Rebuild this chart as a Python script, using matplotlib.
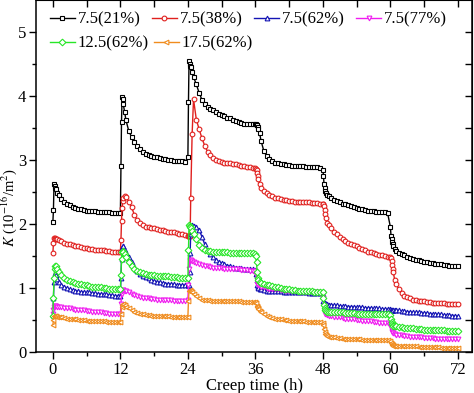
import matplotlib
matplotlib.use("Agg")
import matplotlib.pyplot as plt

plt.rcParams['font.family'] = ['Liberation Serif', 'DejaVu Serif']
plt.rcParams['mathtext.fontset'] = 'stix'

#############   data   #############

# sampling offsets (h) inside each 12 h stage
stage_offsets = [0, 0.1, 0.2, 0.3, 0.4, 0.5, 0.75, 1, 1.5, 2, 2.5, 3, 3.5, 4, 4.5,
                 5, 5.5, 6, 6.5, 7, 7.5, 8, 8.5, 9, 9.5, 10, 10.5, 11, 11.5]
stage_starts = [0, 12, 24, 36, 48, 60]
t_end = 72

labels = ['7.5(21%)', '7.5(38%)', '7.5(62%)', '7.5(77%)', '12.5(62%)', '17.5(62%)']

k_21 = [
    2.03, 2.22, 2.62, 2.60, 2.57, 2.54, 2.49, 2.45, 2.39, 2.34, 2.31, 2.29, 2.27, 2.25, 2.24,
    2.23, 2.22, 2.21, 2.21, 2.20, 2.20, 2.19, 2.19, 2.18, 2.18, 2.18, 2.17, 2.17, 2.17,
    2.17, 2.90, 3.60, 3.98, 3.95, 3.88, 3.75, 3.62, 3.45, 3.36, 3.28, 3.22, 3.17, 3.13, 3.10,
    3.08, 3.06, 3.05, 3.04, 3.03, 3.02, 3.01, 3.00, 3.00, 2.99, 2.99, 2.98, 2.98, 2.97,
    3.05, 3.90, 4.54, 4.50, 4.47, 4.45, 4.38, 4.30, 4.18, 4.05, 3.94, 3.87, 3.83, 3.80, 3.78,
    3.75, 3.72, 3.70, 3.68, 3.66, 3.65, 3.63, 3.61, 3.59, 3.58, 3.57, 3.57, 3.56, 3.56,
    3.56, 3.56, 3.55, 3.55, 3.52, 3.48, 3.42, 3.30, 3.14, 3.06, 3.01, 2.98, 2.96, 2.95, 2.94,
    2.93, 2.92, 2.92, 2.91, 2.91, 2.90, 2.90, 2.90, 2.89, 2.89, 2.89, 2.89, 2.89, 2.88,
    2.85, 2.75, 2.62, 2.56, 2.52, 2.49, 2.46, 2.44, 2.41, 2.38, 2.36, 2.34, 2.32, 2.31, 2.29,
    2.28, 2.27, 2.25, 2.24, 2.23, 2.22, 2.21, 2.21, 2.20, 2.19, 2.19, 2.18, 2.18, 2.17,
    1.95, 1.82, 1.76, 1.72, 1.68, 1.65, 1.61, 1.58, 1.55, 1.53, 1.51, 1.49, 1.47, 1.45, 1.44,
    1.43, 1.42, 1.41, 1.40, 1.39, 1.39, 1.38, 1.37, 1.37, 1.36, 1.36, 1.35, 1.35, 1.34,
    1.34]

k_38 = [
    1.54, 1.70, 1.78, 1.78, 1.77, 1.77, 1.76, 1.75, 1.73, 1.71, 1.69, 1.68, 1.67, 1.66, 1.65,
    1.64, 1.63, 1.62, 1.61, 1.61, 1.60, 1.60, 1.59, 1.59, 1.58, 1.58, 1.57, 1.57, 1.57,
    1.57, 1.75, 2.05, 2.25, 2.36, 2.40, 2.43, 2.42, 2.35, 2.26, 2.14, 2.06, 2.01, 1.98, 1.96,
    1.95, 1.94, 1.93, 1.92, 1.91, 1.90, 1.89, 1.88, 1.87, 1.87, 1.86, 1.85, 1.84, 1.83,
    1.82, 1.81, 1.81, 1.81, 1.82, 2.40, 3.40, 3.95, 3.63, 3.48, 3.34, 3.22, 3.13, 3.08, 3.03,
    3.00, 2.98, 2.97, 2.96, 2.96, 2.95, 2.94, 2.93, 2.92, 2.91, 2.90, 2.89, 2.89, 2.88,
    2.87, 2.86, 2.84, 2.80, 2.75, 2.70, 2.62, 2.57, 2.52, 2.48, 2.45, 2.43, 2.41, 2.40, 2.39,
    2.38, 2.37, 2.36, 2.36, 2.35, 2.35, 2.35, 2.34, 2.34, 2.34, 2.33, 2.33, 2.33, 2.32,
    2.32, 2.31, 2.28, 2.22, 2.16, 2.10, 2.02, 1.98, 1.93, 1.88, 1.84, 1.80, 1.77, 1.74, 1.71,
    1.69, 1.67, 1.65, 1.63, 1.61, 1.59, 1.57, 1.56, 1.54, 1.53, 1.52, 1.51, 1.50, 1.49,
    1.49, 1.47, 1.42, 1.36, 1.30, 1.25, 1.13, 1.06, 0.98, 0.92, 0.88, 0.86, 0.84, 0.82, 0.81,
    0.80, 0.79, 0.79, 0.78, 0.78, 0.77, 0.77, 0.76, 0.76, 0.76, 0.75, 0.75, 0.75, 0.75,
    0.75]

k_62 = [
    0.58, 0.85, 1.10, 1.22, 1.23, 1.20, 1.14, 1.09, 1.05, 1.02, 1.00, 0.98, 0.97, 0.96, 0.95,
    0.94, 0.94, 0.93, 0.93, 0.92, 0.92, 0.91, 0.91, 0.90, 0.90, 0.89, 0.89, 0.88, 0.88,
    0.88, 1.15, 1.45, 1.62, 1.66, 1.65, 1.60, 1.55, 1.48, 1.40, 1.33, 1.27, 1.22, 1.19, 1.17,
    1.15, 1.13, 1.11, 1.10, 1.09, 1.08, 1.07, 1.07, 1.06, 1.06, 1.05, 1.05, 1.05, 1.04,
    1.04, 1.04, 1.05, 1.25, 1.55, 1.85, 1.98, 1.97, 1.95, 1.91, 1.80, 1.68, 1.59, 1.53, 1.48,
    1.44, 1.41, 1.39, 1.37, 1.35, 1.34, 1.33, 1.32, 1.31, 1.31, 1.30, 1.30, 1.30, 1.29,
    1.28, 1.22, 1.12, 1.04, 1.01, 1.00, 0.99, 0.98, 0.97, 0.96, 0.96, 0.96, 0.95, 0.95, 0.95,
    0.94, 0.94, 0.94, 0.94, 0.93, 0.93, 0.93, 0.93, 0.93, 0.92, 0.92, 0.92, 0.92, 0.92,
    0.90, 0.80, 0.77, 0.76, 0.76, 0.75, 0.75, 0.74, 0.74, 0.73, 0.73, 0.72, 0.72, 0.72, 0.71,
    0.71, 0.71, 0.70, 0.70, 0.70, 0.69, 0.69, 0.69, 0.68, 0.68, 0.68, 0.67, 0.67, 0.67,
    0.67, 0.66, 0.66, 0.66, 0.66, 0.66, 0.65, 0.65, 0.65, 0.64, 0.64, 0.63, 0.63, 0.62, 0.62,
    0.62, 0.61, 0.61, 0.61, 0.60, 0.60, 0.59, 0.59, 0.59, 0.58, 0.58, 0.58, 0.57, 0.57,
    0.56]

k_77 = [
    0.60, 0.66, 0.71, 0.72, 0.72, 0.72, 0.71, 0.71, 0.70, 0.69, 0.68, 0.68, 0.67, 0.66, 0.66,
    0.65, 0.65, 0.64, 0.64, 0.63, 0.63, 0.62, 0.62, 0.61, 0.61, 0.60, 0.60, 0.59, 0.59,
    0.59, 0.75, 0.90, 0.96, 0.97, 0.97, 0.96, 0.95, 0.93, 0.91, 0.89, 0.87, 0.86, 0.85, 0.84,
    0.84, 0.83, 0.83, 0.82, 0.82, 0.82, 0.81, 0.81, 0.81, 0.80, 0.80, 0.80, 0.80, 0.80,
    0.82, 1.05, 1.30, 1.42, 1.44, 1.43, 1.42, 1.41, 1.39, 1.38, 1.36, 1.35, 1.34, 1.33, 1.32,
    1.32, 1.31, 1.31, 1.30, 1.30, 1.30, 1.29, 1.29, 1.29, 1.28, 1.28, 1.28, 1.27, 1.27,
    1.27, 1.22, 1.12, 1.07, 1.05, 1.04, 1.03, 1.02, 1.01, 1.00, 0.99, 0.99, 0.98, 0.98, 0.97,
    0.97, 0.96, 0.96, 0.95, 0.95, 0.95, 0.94, 0.94, 0.94, 0.93, 0.93, 0.93, 0.93, 0.92,
    0.92, 0.85, 0.72, 0.63, 0.60, 0.59, 0.58, 0.57, 0.56, 0.55, 0.54, 0.54, 0.53, 0.52, 0.52,
    0.51, 0.51, 0.50, 0.50, 0.49, 0.49, 0.48, 0.48, 0.47, 0.47, 0.46, 0.46, 0.46, 0.45,
    0.44, 0.38, 0.33, 0.31, 0.30, 0.29, 0.28, 0.27, 0.27, 0.26, 0.25, 0.25, 0.24, 0.24, 0.23,
    0.23, 0.23, 0.22, 0.22, 0.22, 0.22, 0.21, 0.21, 0.21, 0.21, 0.21, 0.20, 0.20, 0.20,
    0.20]

k_125 = [
    0.57, 0.85, 1.15, 1.30, 1.34, 1.34, 1.30, 1.25, 1.20, 1.16, 1.13, 1.11, 1.10, 1.08, 1.07,
    1.06, 1.05, 1.04, 1.03, 1.02, 1.02, 1.01, 1.01, 1.00, 1.00, 0.99, 0.99, 0.98, 0.98,
    0.98, 1.20, 1.45, 1.56, 1.58, 1.57, 1.53, 1.48, 1.41, 1.35, 1.30, 1.27, 1.25, 1.23, 1.22,
    1.21, 1.20, 1.20, 1.19, 1.19, 1.18, 1.18, 1.18, 1.17, 1.17, 1.17, 1.16, 1.16, 1.16,
    1.16, 1.60, 1.98, 1.97, 1.95, 1.93, 1.89, 1.85, 1.77, 1.67, 1.62, 1.59, 1.58, 1.58, 1.57,
    1.57, 1.57, 1.56, 1.56, 1.56, 1.55, 1.55, 1.55, 1.55, 1.54, 1.54, 1.54, 1.54, 1.54,
    1.53, 1.50, 1.40, 1.25, 1.15, 1.12, 1.10, 1.08, 1.06, 1.05, 1.04, 1.03, 1.02, 1.01, 1.00,
    0.99, 0.99, 0.98, 0.97, 0.97, 0.96, 0.96, 0.95, 0.95, 0.95, 0.95, 0.94, 0.94, 0.94,
    0.93, 0.85, 0.74, 0.68, 0.65, 0.64, 0.63, 0.63, 0.63, 0.62, 0.62, 0.62, 0.62, 0.61, 0.61,
    0.61, 0.61, 0.60, 0.60, 0.60, 0.60, 0.60, 0.59, 0.59, 0.59, 0.59, 0.59, 0.59, 0.59,
    0.58, 0.52, 0.47, 0.44, 0.42, 0.41, 0.40, 0.40, 0.39, 0.39, 0.38, 0.38, 0.37, 0.37, 0.36,
    0.36, 0.36, 0.35, 0.35, 0.35, 0.34, 0.34, 0.34, 0.34, 0.34, 0.33, 0.33, 0.33, 0.33,
    0.33]

k_175 = [
    0.42, 0.50, 0.56, 0.57, 0.57, 0.56, 0.55, 0.55, 0.54, 0.53, 0.52, 0.52, 0.51, 0.51, 0.50,
    0.50, 0.50, 0.49, 0.49, 0.49, 0.48, 0.48, 0.48, 0.48, 0.47, 0.47, 0.47, 0.47, 0.47,
    0.47, 0.60, 0.70, 0.74, 0.75, 0.75, 0.73, 0.71, 0.69, 0.66, 0.63, 0.61, 0.60, 0.59, 0.58,
    0.58, 0.57, 0.57, 0.57, 0.56, 0.56, 0.56, 0.56, 0.55, 0.55, 0.55, 0.55, 0.55, 0.55,
    0.55, 0.80, 0.95, 0.97, 0.96, 0.95, 0.93, 0.91, 0.87, 0.84, 0.82, 0.81, 0.81, 0.80, 0.80,
    0.80, 0.80, 0.80, 0.79, 0.79, 0.79, 0.79, 0.79, 0.79, 0.78, 0.78, 0.78, 0.78, 0.78,
    0.78, 0.76, 0.72, 0.70, 0.68, 0.67, 0.64, 0.62, 0.59, 0.56, 0.54, 0.53, 0.52, 0.51, 0.51,
    0.50, 0.50, 0.49, 0.49, 0.48, 0.48, 0.48, 0.48, 0.47, 0.47, 0.47, 0.47, 0.47, 0.47,
    0.46, 0.42, 0.36, 0.31, 0.28, 0.27, 0.25, 0.24, 0.23, 0.23, 0.22, 0.22, 0.21, 0.21, 0.21,
    0.20, 0.20, 0.20, 0.20, 0.19, 0.19, 0.19, 0.19, 0.19, 0.18, 0.18, 0.18, 0.18, 0.18,
    0.17, 0.14, 0.12, 0.11, 0.11, 0.10, 0.10, 0.10, 0.10, 0.09, 0.09, 0.09, 0.09, 0.09, 0.09,
    0.08, 0.08, 0.08, 0.08, 0.08, 0.08, 0.08, 0.08, 0.07, 0.07, 0.07, 0.07, 0.07, 0.07,
    0.07]

time_h = [s + o for s in stage_starts for o in stage_offsets] + [t_end]

series = [k_21, k_38, k_62, k_77, k_125, k_175]
colors = ['#000000', '#e0201e', '#1414b4', '#f01cf0', '#28e628', '#f08c1e']
markers = ['s', 'o', '^', 'v', 'D', '<']

#############   plot   #############

fig = plt.figure(figsize=(4.74, 3.93), dpi=100)
ax = fig.add_axes([36/474, 1-352/393, 436/474, 352/393])

handles = []
for k, c, m, lab in zip(series, colors, markers, labels):
    h, = ax.plot(time_h, k, color=c, marker=m, markersize=3.4, markerfacecolor='white',
                 markeredgecolor=c, markeredgewidth=0.8, linewidth=1.0, label=lab)
    handles.append(h)

ax.set_xlim(-3, 74.5)
ax.set_ylim(0, 5.5)
ax.set_xticks([0, 12, 24, 36, 48, 60, 72])
ax.set_xticks([6, 18, 30, 42, 54, 66], minor=True)
ax.set_yticks([0, 1, 2, 3, 4, 5])
ax.set_yticks([0.5, 1.5, 2.5, 3.5, 4.5], minor=True)
ax.tick_params(which='both', direction='out', labelsize=12, width=1, pad=2)
ax.tick_params(which='major', length=5)
ax.tick_params(which='minor', length=3)
for sp in ax.spines.values():
    sp.set_linewidth(1.1)

# inward ticks on the top and right frame
top = ax.secondary_xaxis('top')
top.set_xticks([0, 6, 12, 18, 24, 30, 36, 42, 48, 54, 60, 66, 72])
top.tick_params(direction='in', length=5, width=1, labeltop=False)
right = ax.secondary_yaxis('right')
right.set_yticks([0, 0.5, 1, 1.5, 2, 2.5, 3, 3.5, 4, 4.5, 5])
right.tick_params(direction='in', length=5, width=1, labelright=False)

ax.set_xlabel('Creep time (h)', fontsize=12, labelpad=0)
ax.set_ylabel(r'$K$ (10$^{-16}$/m$^2$)', fontsize=10.5)
ax.yaxis.set_label_coords(-0.038, 0.41)

# legend: two rows laid out like the original
leg_kw = dict(frameon=False, loc='center left', fontsize=12, handlelength=1.5,
              handletextpad=0.15, borderpad=0, borderaxespad=0)
leg1 = ax.legend(handles[:4], labels[:4], ncol=4, columnspacing=0.7,
                 bbox_to_anchor=(0.032, 0.944), **leg_kw)
ax.add_artist(leg1)
ax.legend(handles[4:], labels[4:], ncol=2, columnspacing=0.3,
          bbox_to_anchor=(0.032, 0.876), **leg_kw)

fig.savefig('out.png', dpi=100)
